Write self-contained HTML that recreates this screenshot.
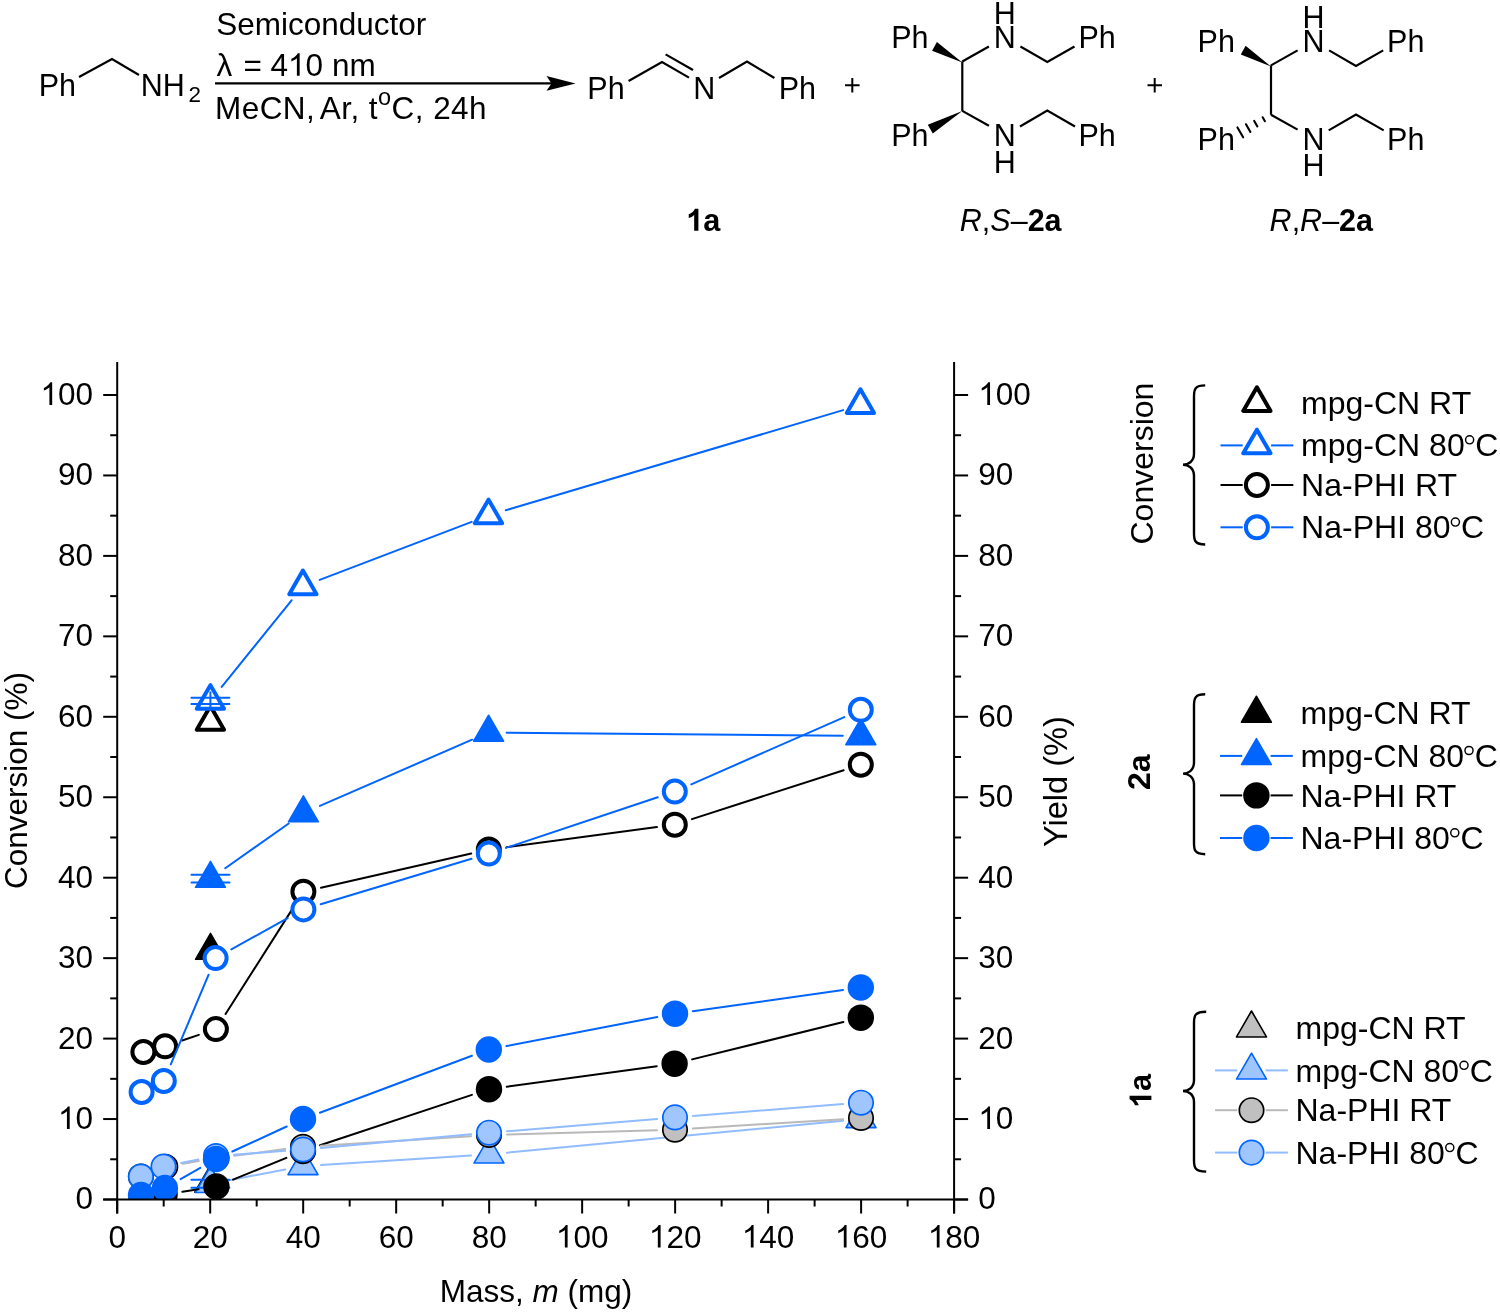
<!DOCTYPE html><html><head><meta charset="utf-8"><title>Chart</title><style>html,body{margin:0;padding:0;background:#fff;}svg{display:block;will-change:transform;}text{font-family:"Liberation Sans",sans-serif;}</style></head><body><svg width="1500" height="1312" viewBox="0 0 1500 1312"><text x="38.7" y="95.6" font-size="30.5" font-family="Liberation Sans, sans-serif" >Ph</text><polyline points="79,77 112,59 139,75" stroke="#000" stroke-width="2.2" fill="none" stroke-linecap="butt"/><text x="140.7" y="95.6" font-size="30.5" font-family="Liberation Sans, sans-serif" >NH</text><text x="188.6" y="102.4" font-size="22.5" font-family="Liberation Sans, sans-serif" >2</text><text x="216.2" y="34.8" font-size="31.5" font-family="Liberation Sans, sans-serif">Semiconductor</text><text y="75.8" font-size="31.5" font-family="Liberation Sans, sans-serif"><tspan x="216.6">λ</tspan><tspan x="243.6">=</tspan><tspan x="332.1">nm</tspan></text><text x="270.40" y="75.80" font-size="31.5" font-family="Liberation Sans, sans-serif" >4 0</text><path d="M763,0H583V1147C540,1106 483,1065 413,1024C343,983 280,952 223,931V1105C323,1152 411,1210 486,1277C561,1344 614,1410 645,1466H763Z" transform="translate(287.92,75.80) scale(0.015381,-0.015381)"/><text x="215" y="119.4" font-size="31.5" letter-spacing="0.45" font-family="Liberation Sans, sans-serif">MeCN,<tspan dx="-3"> </tspan>Ar, t<tspan dy="-14.5" font-size="23.5">o</tspan><tspan dy="14.5">C, 24h</tspan></text><line x1="215" y1="83.4" x2="556" y2="83.4" stroke="#000" stroke-width="2.2"/><path d="M575.5,83.4 L546.5,76 L551.5,83.4 L546.5,90.8 Z" fill="#000"/><text x="587.3" y="99" font-size="30.5" font-family="Liberation Sans, sans-serif" >Ph</text><polyline points="628.6,81 662,62 689,77.6" stroke="#000" stroke-width="2.2" fill="none" stroke-linecap="butt"/><line x1="665.6" y1="54.4" x2="693" y2="70" stroke="#000" stroke-width="2.2" fill="none" stroke-linecap="butt"/><text x="693.3" y="99" font-size="30.5" font-family="Liberation Sans, sans-serif" >N</text><polyline points="719,78 747,61.6 774.4,78" stroke="#000" stroke-width="2.2" fill="none" stroke-linecap="butt"/><text x="778.7" y="99" font-size="30.5" font-family="Liberation Sans, sans-serif" >Ph</text><path d="M845,85.2 H859.6 M852.3,78 V92.4" stroke="#000" stroke-width="2"/><path d="M1147.5,85.3 H1162 M1154.7,78 V92.6" stroke="#000" stroke-width="2"/><text x="891.2" y="48.2" font-size="30.5" font-family="Liberation Sans, sans-serif" >Ph</text><text x="993.8" y="24.3" font-size="30.5" font-family="Liberation Sans, sans-serif" >H</text><text x="993.8" y="48.2" font-size="30.5" font-family="Liberation Sans, sans-serif" >N</text><text x="1078.4" y="48.2" font-size="30.5" font-family="Liberation Sans, sans-serif" >Ph</text><text x="891.2" y="146" font-size="30.5" font-family="Liberation Sans, sans-serif" >Ph</text><text x="993.8" y="146" font-size="30.5" font-family="Liberation Sans, sans-serif" >N</text><text x="993.8" y="172.5" font-size="30.5" font-family="Liberation Sans, sans-serif" >H</text><text x="1078.4" y="146" font-size="30.5" font-family="Liberation Sans, sans-serif" >Ph</text><line x1="962.3" y1="61.5" x2="962.3" y2="110.9" stroke="#000" stroke-width="2.2" fill="none" stroke-linecap="butt"/><line x1="962.3" y1="61.5" x2="988.9" y2="46.5" stroke="#000" stroke-width="2.2" fill="none" stroke-linecap="butt"/><polyline points="1020.4,46.5 1047.3,62 1074.5,46.5" stroke="#000" stroke-width="2.2" fill="none" stroke-linecap="butt"/><line x1="962.3" y1="110.9" x2="988.9" y2="125.7" stroke="#000" stroke-width="2.2" fill="none" stroke-linecap="butt"/><polyline points="1020,126.5 1047.3,110.6 1075,126.5" stroke="#000" stroke-width="2.2" fill="none" stroke-linecap="butt"/><polygon points="962.3,62.5 936.90,41.91 932.10,50.69" fill="#000"/><polygon points="962.3,110.9 927.82,124.86 932.78,133.54" fill="#000"/><text x="1197.6000000000001" y="52.1" font-size="30.5" font-family="Liberation Sans, sans-serif" >Ph</text><text x="1302.5" y="28.2" font-size="30.5" font-family="Liberation Sans, sans-serif" >H</text><text x="1302.5" y="52.1" font-size="30.5" font-family="Liberation Sans, sans-serif" >N</text><text x="1387.1000000000001" y="52.1" font-size="30.5" font-family="Liberation Sans, sans-serif" >Ph</text><text x="1197.6000000000001" y="149.9" font-size="30.5" font-family="Liberation Sans, sans-serif" >Ph</text><text x="1302.5" y="149.9" font-size="30.5" font-family="Liberation Sans, sans-serif" >N</text><text x="1302.5" y="176.4" font-size="30.5" font-family="Liberation Sans, sans-serif" >H</text><text x="1387.1000000000001" y="149.9" font-size="30.5" font-family="Liberation Sans, sans-serif" >Ph</text><line x1="1271.0" y1="65.4" x2="1271.0" y2="114.80000000000001" stroke="#000" stroke-width="2.2" fill="none" stroke-linecap="butt"/><line x1="1271.0" y1="65.4" x2="1297.6" y2="50.4" stroke="#000" stroke-width="2.2" fill="none" stroke-linecap="butt"/><polyline points="1329.1,50.4 1356.0,65.9 1383.2,50.4" stroke="#000" stroke-width="2.2" fill="none" stroke-linecap="butt"/><line x1="1271.0" y1="114.80000000000001" x2="1297.6" y2="129.6" stroke="#000" stroke-width="2.2" fill="none" stroke-linecap="butt"/><polyline points="1328.7,130.4 1356.0,114.5 1383.7,130.4" stroke="#000" stroke-width="2.2" fill="none" stroke-linecap="butt"/><polygon points="1271.0,66.4 1245.60,45.81 1240.80,54.59" fill="#000"/><line x1="1262.68" y1="117.25" x2="1264.92" y2="121.15" stroke="#000" stroke-width="2.1" stroke-linecap="round"/><line x1="1254.23" y1="120.97" x2="1257.37" y2="126.43" stroke="#000" stroke-width="2.1" stroke-linecap="round"/><line x1="1245.99" y1="124.24" x2="1250.41" y2="131.96" stroke="#000" stroke-width="2.1" stroke-linecap="round"/><line x1="1237.47" y1="127.45" x2="1243.13" y2="137.35" stroke="#000" stroke-width="2.1" stroke-linecap="round"/><text x="686.13" y="230.80" font-size="30.7" font-weight="bold" font-family="Liberation Sans, sans-serif" > a</text><path d="M818,0H537V1059C434,963 313,892 174,846V1101C247,1125 327,1170 413,1236C499,1303 558,1380 590,1466H818Z" transform="translate(686.13,230.80) scale(0.014990,-0.014990)"/><text x="959.8" y="230.8" font-size="30.5" font-family="Liberation Sans, sans-serif"><tspan font-style="italic">R</tspan>,<tspan font-style="italic">S</tspan>–<tspan font-weight="bold">2a</tspan></text><text x="1269.6" y="230.8" font-size="30.5" font-family="Liberation Sans, sans-serif"><tspan font-style="italic">R</tspan>,<tspan font-style="italic">R</tspan>–<tspan font-weight="bold">2a</tspan></text><clipPath id="pc"><rect x="117.2" y="362" width="836.9" height="837.5"/></clipPath><g clip-path="url(#pc)"><polygon points="209.80,1166.28 194.80,1192.26 224.80,1192.26" fill="#c0c0c0" stroke="#000" stroke-width="1.6" stroke-linejoin="round"/><line x1="228.08" y1="1180.40" x2="285.32" y2="1169.40" stroke="#91bcff" stroke-width="2" stroke-linecap="round"/><line x1="320.97" y1="1164.88" x2="471.03" y2="1155.52" stroke="#91bcff" stroke-width="2" stroke-linecap="round"/><line x1="506.92" y1="1152.69" x2="843.08" y2="1120.71" stroke="#91bcff" stroke-width="2" stroke-linecap="round"/><polygon points="210.40,1166.48 195.40,1192.46 225.40,1192.46" fill="#a0c6ff" stroke="#0064ff" stroke-width="1.6" stroke-linejoin="round"/><line x1="191.40" y1="1179.80" x2="229.40" y2="1179.80" stroke="#0064ff" stroke-width="2" stroke-linecap="round"/><line x1="191.40" y1="1187.80" x2="229.40" y2="1187.80" stroke="#0064ff" stroke-width="2" stroke-linecap="round"/><line x1="210.40" y1="1179.80" x2="210.40" y2="1187.80" stroke="#0064ff" stroke-width="2"/><polygon points="303.00,1148.68 288.00,1174.66 318.00,1174.66" fill="#a0c6ff" stroke="#0064ff" stroke-width="1.6" stroke-linejoin="round"/><polygon points="489.00,1137.08 474.00,1163.06 504.00,1163.06" fill="#a0c6ff" stroke="#0064ff" stroke-width="1.6" stroke-linejoin="round"/><polygon points="861.00,1101.68 846.00,1127.66 876.00,1127.66" fill="#a0c6ff" stroke="#0064ff" stroke-width="1.6" stroke-linejoin="round"/><line x1="182.38" y1="1191.82" x2="198.62" y2="1189.28" stroke="#000" stroke-width="2" stroke-linecap="round"/><line x1="233.05" y1="1179.67" x2="286.35" y2="1157.83" stroke="#000" stroke-width="2" stroke-linecap="round"/><line x1="320.08" y1="1145.32" x2="471.92" y2="1094.88" stroke="#000" stroke-width="2" stroke-linecap="round"/><line x1="506.83" y1="1086.75" x2="656.77" y2="1066.15" stroke="#000" stroke-width="2" stroke-linecap="round"/><line x1="692.07" y1="1059.38" x2="843.33" y2="1022.02" stroke="#000" stroke-width="2" stroke-linecap="round"/><circle cx="141.50" cy="1197.50" r="13.2" fill="#000"/><circle cx="164.60" cy="1194.60" r="13.2" fill="#000"/><circle cx="216.40" cy="1186.50" r="13.2" fill="#000"/><circle cx="303.00" cy="1151.00" r="13.2" fill="#000"/><circle cx="489.00" cy="1089.20" r="13.2" fill="#000"/><circle cx="674.60" cy="1063.70" r="13.2" fill="#000"/><circle cx="860.80" cy="1017.70" r="13.2" fill="#000"/><line x1="183.04" y1="1163.76" x2="198.86" y2="1161.04" stroke="#b9b9b9" stroke-width="2" stroke-linecap="round"/><line x1="234.45" y1="1155.69" x2="285.15" y2="1149.11" stroke="#b9b9b9" stroke-width="2" stroke-linecap="round"/><line x1="320.96" y1="1145.66" x2="471.04" y2="1136.14" stroke="#b9b9b9" stroke-width="2" stroke-linecap="round"/><line x1="506.99" y1="1134.49" x2="657.01" y2="1130.21" stroke="#b9b9b9" stroke-width="2" stroke-linecap="round"/><line x1="692.96" y1="1128.57" x2="843.04" y2="1119.13" stroke="#b9b9b9" stroke-width="2" stroke-linecap="round"/><circle cx="140.90" cy="1176.60" r="12.2" fill="#c0c0c0" stroke="#000" stroke-width="1.7"/><circle cx="165.30" cy="1166.80" r="12.2" fill="#c0c0c0" stroke="#000" stroke-width="1.7"/><circle cx="216.60" cy="1158.00" r="12.2" fill="#c0c0c0" stroke="#000" stroke-width="1.7"/><circle cx="303.00" cy="1146.80" r="12.2" fill="#c0c0c0" stroke="#000" stroke-width="1.7"/><circle cx="489.00" cy="1135.00" r="12.2" fill="#c0c0c0" stroke="#000" stroke-width="1.7"/><circle cx="675.00" cy="1129.70" r="12.2" fill="#c0c0c0" stroke="#000" stroke-width="1.7"/><circle cx="861.00" cy="1118.00" r="12.2" fill="#c0c0c0" stroke="#000" stroke-width="1.7"/><line x1="181.14" y1="1163.04" x2="198.36" y2="1159.56" stroke="#91bcff" stroke-width="2" stroke-linecap="round"/><line x1="233.95" y1="1154.66" x2="285.05" y2="1150.84" stroke="#91bcff" stroke-width="2" stroke-linecap="round"/><line x1="320.93" y1="1147.88" x2="471.07" y2="1134.32" stroke="#91bcff" stroke-width="2" stroke-linecap="round"/><line x1="506.94" y1="1131.22" x2="657.06" y2="1118.88" stroke="#91bcff" stroke-width="2" stroke-linecap="round"/><line x1="692.94" y1="1115.98" x2="843.06" y2="1104.12" stroke="#91bcff" stroke-width="2" stroke-linecap="round"/><circle cx="140.90" cy="1176.50" r="12.2" fill="#a0c6ff" stroke="#0064ff" stroke-width="1.7"/><circle cx="163.50" cy="1166.60" r="12.2" fill="#a0c6ff" stroke="#0064ff" stroke-width="1.7"/><circle cx="216.00" cy="1156.00" r="12.2" fill="#a0c6ff" stroke="#0064ff" stroke-width="1.7"/><circle cx="303.00" cy="1149.50" r="12.2" fill="#a0c6ff" stroke="#0064ff" stroke-width="1.7"/><circle cx="489.00" cy="1132.70" r="12.2" fill="#a0c6ff" stroke="#0064ff" stroke-width="1.7"/><circle cx="675.00" cy="1117.40" r="12.2" fill="#a0c6ff" stroke="#0064ff" stroke-width="1.7"/><circle cx="861.00" cy="1102.70" r="12.2" fill="#a0c6ff" stroke="#0064ff" stroke-width="1.7"/><line x1="180.55" y1="1179.12" x2="200.35" y2="1167.88" stroke="#0064ff" stroke-width="2" stroke-linecap="round"/><line x1="232.35" y1="1151.48" x2="286.65" y2="1126.52" stroke="#0064ff" stroke-width="2" stroke-linecap="round"/><line x1="319.86" y1="1112.69" x2="471.94" y2="1055.81" stroke="#0064ff" stroke-width="2" stroke-linecap="round"/><line x1="506.48" y1="1046.10" x2="657.32" y2="1017.10" stroke="#0064ff" stroke-width="2" stroke-linecap="round"/><line x1="692.82" y1="1011.19" x2="842.98" y2="990.01" stroke="#0064ff" stroke-width="2" stroke-linecap="round"/><circle cx="141.00" cy="1195.00" r="13.2" fill="#0064ff"/><circle cx="164.90" cy="1188.00" r="13.2" fill="#0064ff"/><circle cx="216.00" cy="1159.00" r="13.2" fill="#0064ff"/><circle cx="303.00" cy="1119.00" r="13.2" fill="#0064ff"/><circle cx="488.80" cy="1049.50" r="13.2" fill="#0064ff"/><circle cx="675.00" cy="1013.70" r="13.2" fill="#0064ff"/><circle cx="860.80" cy="987.50" r="13.2" fill="#0064ff"/><polygon points="210.50,933.38 195.50,959.36 225.50,959.36" fill="#000" stroke="#000" stroke-width="1.5" stroke-linejoin="round"/><line x1="225.21" y1="868.23" x2="288.69" y2="823.47" stroke="#0064ff" stroke-width="2" stroke-linecap="round"/><line x1="319.90" y1="805.92" x2="472.10" y2="739.68" stroke="#0064ff" stroke-width="2" stroke-linecap="round"/><line x1="506.60" y1="732.67" x2="842.80" y2="735.83" stroke="#0064ff" stroke-width="2" stroke-linecap="round"/><polygon points="210.50,861.28 195.50,887.26 225.50,887.26" fill="#0064ff" stroke="#0064ff" stroke-width="1.5" stroke-linejoin="round"/><line x1="191.50" y1="874.75" x2="229.50" y2="874.75" stroke="#0064ff" stroke-width="2" stroke-linecap="round"/><line x1="191.50" y1="882.45" x2="229.50" y2="882.45" stroke="#0064ff" stroke-width="2" stroke-linecap="round"/><line x1="210.50" y1="874.75" x2="210.50" y2="882.45" stroke="#0064ff" stroke-width="2"/><polygon points="303.40,795.78 288.40,821.76 318.40,821.76" fill="#0064ff" stroke="#0064ff" stroke-width="1.5" stroke-linejoin="round"/><polygon points="488.60,715.18 473.60,741.16 503.60,741.16" fill="#0064ff" stroke="#0064ff" stroke-width="1.5" stroke-linejoin="round"/><polygon points="860.80,718.68 845.80,744.66 875.80,744.66" fill="#0064ff" stroke="#0064ff" stroke-width="1.5" stroke-linejoin="round"/><polygon points="210.40,706.04 196.75,729.68 224.05,729.68" fill="#fff" stroke="#000" stroke-width="4" stroke-linejoin="round"/><line x1="221.71" y1="686.89" x2="291.59" y2="600.31" stroke="#0064ff" stroke-width="2" stroke-linecap="round"/><line x1="319.71" y1="579.88" x2="471.69" y2="521.82" stroke="#0064ff" stroke-width="2" stroke-linecap="round"/><line x1="505.76" y1="510.28" x2="843.14" y2="410.12" stroke="#0064ff" stroke-width="2" stroke-linecap="round"/><polygon points="210.40,685.14 196.75,708.78 224.05,708.78" fill="#fff" stroke="#0064ff" stroke-width="4" stroke-linejoin="round"/><line x1="191.40" y1="697.70" x2="229.40" y2="697.70" stroke="#0064ff" stroke-width="2" stroke-linecap="round"/><line x1="191.40" y1="704.10" x2="229.40" y2="704.10" stroke="#0064ff" stroke-width="2" stroke-linecap="round"/><line x1="210.40" y1="691.40" x2="210.40" y2="706.90" stroke="#0064ff" stroke-width="2"/><polygon points="302.90,570.54 289.25,594.18 316.55,594.18" fill="#fff" stroke="#0064ff" stroke-width="4" stroke-linejoin="round"/><polygon points="488.50,499.64 474.85,523.28 502.15,523.28" fill="#fff" stroke="#0064ff" stroke-width="4" stroke-linejoin="round"/><polygon points="860.40,389.24 846.75,412.88 874.05,412.88" fill="#fff" stroke="#0064ff" stroke-width="4" stroke-linejoin="round"/><line x1="182.15" y1="1040.53" x2="198.85" y2="1034.87" stroke="#000" stroke-width="2" stroke-linecap="round"/><line x1="225.57" y1="1013.92" x2="293.73" y2="906.88" stroke="#000" stroke-width="2" stroke-linecap="round"/><line x1="320.95" y1="887.71" x2="471.25" y2="853.49" stroke="#000" stroke-width="2" stroke-linecap="round"/><line x1="506.64" y1="847.12" x2="656.96" y2="827.08" stroke="#000" stroke-width="2" stroke-linecap="round"/><line x1="691.93" y1="819.17" x2="843.67" y2="770.23" stroke="#000" stroke-width="2" stroke-linecap="round"/><circle cx="143.40" cy="1052.00" r="11" fill="#fff" stroke="#000" stroke-width="4"/><circle cx="165.10" cy="1046.30" r="11" fill="#fff" stroke="#000" stroke-width="4"/><circle cx="215.90" cy="1029.10" r="11" fill="#fff" stroke="#000" stroke-width="4"/><circle cx="303.40" cy="891.70" r="11" fill="#fff" stroke="#000" stroke-width="4"/><circle cx="488.80" cy="849.50" r="11" fill="#fff" stroke="#000" stroke-width="4"/><circle cx="674.80" cy="824.70" r="11" fill="#fff" stroke="#000" stroke-width="4"/><circle cx="860.80" cy="764.70" r="11" fill="#fff" stroke="#000" stroke-width="4"/><line x1="170.79" y1="1064.41" x2="208.61" y2="974.69" stroke="#0064ff" stroke-width="2" stroke-linecap="round"/><line x1="231.34" y1="949.37" x2="287.66" y2="918.13" stroke="#0064ff" stroke-width="2" stroke-linecap="round"/><line x1="320.64" y1="904.21" x2="471.56" y2="858.79" stroke="#0064ff" stroke-width="2" stroke-linecap="round"/><line x1="505.88" y1="847.91" x2="657.72" y2="797.29" stroke="#0064ff" stroke-width="2" stroke-linecap="round"/><line x1="691.28" y1="784.35" x2="844.32" y2="717.05" stroke="#0064ff" stroke-width="2" stroke-linecap="round"/><circle cx="141.60" cy="1092.00" r="11" fill="#fff" stroke="#0064ff" stroke-width="4"/><circle cx="163.80" cy="1081.00" r="11" fill="#fff" stroke="#0064ff" stroke-width="4"/><circle cx="215.60" cy="958.10" r="11" fill="#fff" stroke="#0064ff" stroke-width="4"/><circle cx="303.40" cy="909.40" r="11" fill="#fff" stroke="#0064ff" stroke-width="4"/><circle cx="488.80" cy="853.60" r="11" fill="#fff" stroke="#0064ff" stroke-width="4"/><circle cx="674.80" cy="791.60" r="11" fill="#fff" stroke="#0064ff" stroke-width="4"/><circle cx="860.80" cy="709.80" r="11" fill="#fff" stroke="#0064ff" stroke-width="4"/></g><line x1="117.2" y1="362" x2="117.2" y2="1213.5" stroke="#000" stroke-width="2"/><line x1="954.1" y1="362" x2="954.1" y2="1213.5" stroke="#000" stroke-width="2"/><line x1="103.2" y1="1199.5" x2="968.1" y2="1199.5" stroke="#000" stroke-width="2"/><line x1="103.2" y1="1199.50" x2="117.2" y2="1199.50" stroke="#000" stroke-width="2"/><line x1="954.1" y1="1199.50" x2="968.1" y2="1199.50" stroke="#000" stroke-width="2"/><line x1="110.2" y1="1159.28" x2="117.2" y2="1159.28" stroke="#000" stroke-width="2"/><line x1="954.1" y1="1159.28" x2="961.1" y2="1159.28" stroke="#000" stroke-width="2"/><line x1="103.2" y1="1119.05" x2="117.2" y2="1119.05" stroke="#000" stroke-width="2"/><line x1="954.1" y1="1119.05" x2="968.1" y2="1119.05" stroke="#000" stroke-width="2"/><line x1="110.2" y1="1078.83" x2="117.2" y2="1078.83" stroke="#000" stroke-width="2"/><line x1="954.1" y1="1078.83" x2="961.1" y2="1078.83" stroke="#000" stroke-width="2"/><line x1="103.2" y1="1038.60" x2="117.2" y2="1038.60" stroke="#000" stroke-width="2"/><line x1="954.1" y1="1038.60" x2="968.1" y2="1038.60" stroke="#000" stroke-width="2"/><line x1="110.2" y1="998.38" x2="117.2" y2="998.38" stroke="#000" stroke-width="2"/><line x1="954.1" y1="998.38" x2="961.1" y2="998.38" stroke="#000" stroke-width="2"/><line x1="103.2" y1="958.15" x2="117.2" y2="958.15" stroke="#000" stroke-width="2"/><line x1="954.1" y1="958.15" x2="968.1" y2="958.15" stroke="#000" stroke-width="2"/><line x1="110.2" y1="917.92" x2="117.2" y2="917.92" stroke="#000" stroke-width="2"/><line x1="954.1" y1="917.92" x2="961.1" y2="917.92" stroke="#000" stroke-width="2"/><line x1="103.2" y1="877.70" x2="117.2" y2="877.70" stroke="#000" stroke-width="2"/><line x1="954.1" y1="877.70" x2="968.1" y2="877.70" stroke="#000" stroke-width="2"/><line x1="110.2" y1="837.48" x2="117.2" y2="837.48" stroke="#000" stroke-width="2"/><line x1="954.1" y1="837.48" x2="961.1" y2="837.48" stroke="#000" stroke-width="2"/><line x1="103.2" y1="797.25" x2="117.2" y2="797.25" stroke="#000" stroke-width="2"/><line x1="954.1" y1="797.25" x2="968.1" y2="797.25" stroke="#000" stroke-width="2"/><line x1="110.2" y1="757.02" x2="117.2" y2="757.02" stroke="#000" stroke-width="2"/><line x1="954.1" y1="757.02" x2="961.1" y2="757.02" stroke="#000" stroke-width="2"/><line x1="103.2" y1="716.80" x2="117.2" y2="716.80" stroke="#000" stroke-width="2"/><line x1="954.1" y1="716.80" x2="968.1" y2="716.80" stroke="#000" stroke-width="2"/><line x1="110.2" y1="676.58" x2="117.2" y2="676.58" stroke="#000" stroke-width="2"/><line x1="954.1" y1="676.58" x2="961.1" y2="676.58" stroke="#000" stroke-width="2"/><line x1="103.2" y1="636.35" x2="117.2" y2="636.35" stroke="#000" stroke-width="2"/><line x1="954.1" y1="636.35" x2="968.1" y2="636.35" stroke="#000" stroke-width="2"/><line x1="110.2" y1="596.12" x2="117.2" y2="596.12" stroke="#000" stroke-width="2"/><line x1="954.1" y1="596.12" x2="961.1" y2="596.12" stroke="#000" stroke-width="2"/><line x1="103.2" y1="555.90" x2="117.2" y2="555.90" stroke="#000" stroke-width="2"/><line x1="954.1" y1="555.90" x2="968.1" y2="555.90" stroke="#000" stroke-width="2"/><line x1="110.2" y1="515.67" x2="117.2" y2="515.67" stroke="#000" stroke-width="2"/><line x1="954.1" y1="515.67" x2="961.1" y2="515.67" stroke="#000" stroke-width="2"/><line x1="103.2" y1="475.45" x2="117.2" y2="475.45" stroke="#000" stroke-width="2"/><line x1="954.1" y1="475.45" x2="968.1" y2="475.45" stroke="#000" stroke-width="2"/><line x1="110.2" y1="435.23" x2="117.2" y2="435.23" stroke="#000" stroke-width="2"/><line x1="954.1" y1="435.23" x2="961.1" y2="435.23" stroke="#000" stroke-width="2"/><line x1="103.2" y1="395.00" x2="117.2" y2="395.00" stroke="#000" stroke-width="2"/><line x1="954.1" y1="395.00" x2="968.1" y2="395.00" stroke="#000" stroke-width="2"/><line x1="117.20" y1="1199.5" x2="117.20" y2="1213.5" stroke="#000" stroke-width="2"/><line x1="163.69" y1="1199.5" x2="163.69" y2="1206.5" stroke="#000" stroke-width="2"/><line x1="210.19" y1="1199.5" x2="210.19" y2="1213.5" stroke="#000" stroke-width="2"/><line x1="256.68" y1="1199.5" x2="256.68" y2="1206.5" stroke="#000" stroke-width="2"/><line x1="303.18" y1="1199.5" x2="303.18" y2="1213.5" stroke="#000" stroke-width="2"/><line x1="349.67" y1="1199.5" x2="349.67" y2="1206.5" stroke="#000" stroke-width="2"/><line x1="396.17" y1="1199.5" x2="396.17" y2="1213.5" stroke="#000" stroke-width="2"/><line x1="442.66" y1="1199.5" x2="442.66" y2="1206.5" stroke="#000" stroke-width="2"/><line x1="489.16" y1="1199.5" x2="489.16" y2="1213.5" stroke="#000" stroke-width="2"/><line x1="535.65" y1="1199.5" x2="535.65" y2="1206.5" stroke="#000" stroke-width="2"/><line x1="582.14" y1="1199.5" x2="582.14" y2="1213.5" stroke="#000" stroke-width="2"/><line x1="628.64" y1="1199.5" x2="628.64" y2="1206.5" stroke="#000" stroke-width="2"/><line x1="675.13" y1="1199.5" x2="675.13" y2="1213.5" stroke="#000" stroke-width="2"/><line x1="721.63" y1="1199.5" x2="721.63" y2="1206.5" stroke="#000" stroke-width="2"/><line x1="768.12" y1="1199.5" x2="768.12" y2="1213.5" stroke="#000" stroke-width="2"/><line x1="814.62" y1="1199.5" x2="814.62" y2="1206.5" stroke="#000" stroke-width="2"/><line x1="861.11" y1="1199.5" x2="861.11" y2="1213.5" stroke="#000" stroke-width="2"/><line x1="907.61" y1="1199.5" x2="907.61" y2="1206.5" stroke="#000" stroke-width="2"/><line x1="954.10" y1="1199.5" x2="954.10" y2="1213.5" stroke="#000" stroke-width="2"/><text x="75.48" y="1209.40" font-size="31.5" font-family="Liberation Sans, sans-serif" >0</text><text x="978.30" y="1209.40" font-size="31.5" font-family="Liberation Sans, sans-serif" >0</text><text x="57.96" y="1128.95" font-size="31.5" font-family="Liberation Sans, sans-serif" > 0</text><path d="M763,0H583V1147C540,1106 483,1065 413,1024C343,983 280,952 223,931V1105C323,1152 411,1210 486,1277C561,1344 614,1410 645,1466H763Z" transform="translate(57.96,1128.95) scale(0.015381,-0.015381)"/><text x="978.30" y="1128.95" font-size="31.5" font-family="Liberation Sans, sans-serif" > 0</text><path d="M763,0H583V1147C540,1106 483,1065 413,1024C343,983 280,952 223,931V1105C323,1152 411,1210 486,1277C561,1344 614,1410 645,1466H763Z" transform="translate(978.30,1128.95) scale(0.015381,-0.015381)"/><text x="57.96" y="1048.50" font-size="31.5" font-family="Liberation Sans, sans-serif" >20</text><text x="978.30" y="1048.50" font-size="31.5" font-family="Liberation Sans, sans-serif" >20</text><text x="57.96" y="968.05" font-size="31.5" font-family="Liberation Sans, sans-serif" >30</text><text x="978.30" y="968.05" font-size="31.5" font-family="Liberation Sans, sans-serif" >30</text><text x="57.96" y="887.60" font-size="31.5" font-family="Liberation Sans, sans-serif" >40</text><text x="978.30" y="887.60" font-size="31.5" font-family="Liberation Sans, sans-serif" >40</text><text x="57.96" y="807.15" font-size="31.5" font-family="Liberation Sans, sans-serif" >50</text><text x="978.30" y="807.15" font-size="31.5" font-family="Liberation Sans, sans-serif" >50</text><text x="57.96" y="726.70" font-size="31.5" font-family="Liberation Sans, sans-serif" >60</text><text x="978.30" y="726.70" font-size="31.5" font-family="Liberation Sans, sans-serif" >60</text><text x="57.96" y="646.25" font-size="31.5" font-family="Liberation Sans, sans-serif" >70</text><text x="978.30" y="646.25" font-size="31.5" font-family="Liberation Sans, sans-serif" >70</text><text x="57.96" y="565.80" font-size="31.5" font-family="Liberation Sans, sans-serif" >80</text><text x="978.30" y="565.80" font-size="31.5" font-family="Liberation Sans, sans-serif" >80</text><text x="57.96" y="485.35" font-size="31.5" font-family="Liberation Sans, sans-serif" >90</text><text x="978.30" y="485.35" font-size="31.5" font-family="Liberation Sans, sans-serif" >90</text><text x="40.44" y="404.90" font-size="31.5" font-family="Liberation Sans, sans-serif" > 00</text><path d="M763,0H583V1147C540,1106 483,1065 413,1024C343,983 280,952 223,931V1105C323,1152 411,1210 486,1277C561,1344 614,1410 645,1466H763Z" transform="translate(40.44,404.90) scale(0.015381,-0.015381)"/><text x="978.30" y="404.90" font-size="31.5" font-family="Liberation Sans, sans-serif" > 00</text><path d="M763,0H583V1147C540,1106 483,1065 413,1024C343,983 280,952 223,931V1105C323,1152 411,1210 486,1277C561,1344 614,1410 645,1466H763Z" transform="translate(978.30,404.90) scale(0.015381,-0.015381)"/><text x="108.44" y="1247.60" font-size="31.5" font-family="Liberation Sans, sans-serif" >0</text><text x="192.67" y="1247.60" font-size="31.5" font-family="Liberation Sans, sans-serif" >20</text><text x="285.66" y="1247.60" font-size="31.5" font-family="Liberation Sans, sans-serif" >40</text><text x="378.65" y="1247.60" font-size="31.5" font-family="Liberation Sans, sans-serif" >60</text><text x="471.64" y="1247.60" font-size="31.5" font-family="Liberation Sans, sans-serif" >80</text><text x="555.87" y="1247.60" font-size="31.5" font-family="Liberation Sans, sans-serif" > 00</text><path d="M763,0H583V1147C540,1106 483,1065 413,1024C343,983 280,952 223,931V1105C323,1152 411,1210 486,1277C561,1344 614,1410 645,1466H763Z" transform="translate(555.87,1247.60) scale(0.015381,-0.015381)"/><text x="648.86" y="1247.60" font-size="31.5" font-family="Liberation Sans, sans-serif" > 20</text><path d="M763,0H583V1147C540,1106 483,1065 413,1024C343,983 280,952 223,931V1105C323,1152 411,1210 486,1277C561,1344 614,1410 645,1466H763Z" transform="translate(648.86,1247.60) scale(0.015381,-0.015381)"/><text x="741.84" y="1247.60" font-size="31.5" font-family="Liberation Sans, sans-serif" > 40</text><path d="M763,0H583V1147C540,1106 483,1065 413,1024C343,983 280,952 223,931V1105C323,1152 411,1210 486,1277C561,1344 614,1410 645,1466H763Z" transform="translate(741.84,1247.60) scale(0.015381,-0.015381)"/><text x="834.83" y="1247.60" font-size="31.5" font-family="Liberation Sans, sans-serif" > 60</text><path d="M763,0H583V1147C540,1106 483,1065 413,1024C343,983 280,952 223,931V1105C323,1152 411,1210 486,1277C561,1344 614,1410 645,1466H763Z" transform="translate(834.83,1247.60) scale(0.015381,-0.015381)"/><text x="927.82" y="1247.60" font-size="31.5" font-family="Liberation Sans, sans-serif" > 80</text><path d="M763,0H583V1147C540,1106 483,1065 413,1024C343,983 280,952 223,931V1105C323,1152 411,1210 486,1277C561,1344 614,1410 645,1466H763Z" transform="translate(927.82,1247.60) scale(0.015381,-0.015381)"/><text x="536" y="1302.4" text-anchor="middle" font-size="31.5" font-family="Liberation Sans, sans-serif">Mass, <tspan font-style="italic">m</tspan> (mg)</text><text transform="translate(26.7,780.5) rotate(-90)" text-anchor="middle" font-size="31.5" font-family="Liberation Sans, sans-serif">Conversion (%)</text><text transform="translate(1066.6,781.6) rotate(-90)" text-anchor="middle" font-size="32.6" font-family="Liberation Sans, sans-serif">Yield (%)</text><polygon points="1256.90,387.24 1243.25,410.88 1270.55,410.88" fill="#fff" stroke="#000" stroke-width="4" stroke-linejoin="round"/><text x="1301.1" y="413.6" font-size="32" font-family="Liberation Sans, sans-serif">mpg-CN RT</text><line x1="1220.5" y1="445.4" x2="1242.7" y2="445.4" stroke="#0064ff" stroke-width="2"/><line x1="1271.1000000000001" y1="445.4" x2="1293.3000000000002" y2="445.4" stroke="#0064ff" stroke-width="2"/><polygon points="1256.90,429.64 1243.25,453.28 1270.55,453.28" fill="#fff" stroke="#0064ff" stroke-width="4" stroke-linejoin="round"/><text x="1301.1" y="456.1" font-size="32" font-family="Liberation Sans, sans-serif">mpg-CN 80<tspan dx="10.6">C</tspan></text><circle cx="1469.61" cy="439.80" r="4.05" fill="none" stroke="#000" stroke-width="1.45"/><line x1="1220.5" y1="485.0" x2="1242.7" y2="485.0" stroke="#000" stroke-width="2"/><line x1="1271.1000000000001" y1="485.0" x2="1293.3000000000002" y2="485.0" stroke="#000" stroke-width="2"/><circle cx="1256.90" cy="485.00" r="11" fill="#fff" stroke="#000" stroke-width="4"/><text x="1301.1" y="496.3" font-size="32" font-family="Liberation Sans, sans-serif">Na-PHI RT</text><line x1="1220.5" y1="527.3" x2="1242.7" y2="527.3" stroke="#0064ff" stroke-width="2"/><line x1="1271.1000000000001" y1="527.3" x2="1293.3000000000002" y2="527.3" stroke="#0064ff" stroke-width="2"/><circle cx="1256.90" cy="527.30" r="11" fill="#fff" stroke="#0064ff" stroke-width="4"/><text x="1301.1" y="538.4" font-size="32" font-family="Liberation Sans, sans-serif">Na-PHI 80<tspan dx="10.6">C</tspan></text><circle cx="1455.39" cy="522.10" r="4.05" fill="none" stroke="#000" stroke-width="1.45"/><path d="M1205.2,385.4 C1195,385.4 1194,389.4 1194,396.4 L1194,453.8 C1194,461.8 1188,464.8 1183,464.8 C1188,464.8 1194,467.8 1194,475.8 L1194,533.5 C1194,540.5 1195,544.5 1205.2,544.5" fill="none" stroke="#000" stroke-width="2.4"/><text transform="translate(1152.6,463.6) rotate(-90)" text-anchor="middle" font-size="32" font-family="Liberation Sans, sans-serif">Conversion</text><polygon points="1256.40,696.18 1241.40,722.16 1271.40,722.16" fill="#000" stroke="#000" stroke-width="1.5" stroke-linejoin="round"/><text x="1300.5" y="724.3" font-size="32" font-family="Liberation Sans, sans-serif">mpg-CN RT</text><line x1="1220.0" y1="755.9" x2="1242.2" y2="755.9" stroke="#0064ff" stroke-width="2"/><line x1="1270.6000000000001" y1="755.9" x2="1292.8000000000002" y2="755.9" stroke="#0064ff" stroke-width="2"/><polygon points="1256.40,738.58 1241.40,764.56 1271.40,764.56" fill="#0064ff" stroke="#0064ff" stroke-width="1.5" stroke-linejoin="round"/><text x="1300.5" y="766.8" font-size="32" font-family="Liberation Sans, sans-serif">mpg-CN 80<tspan dx="10.6">C</tspan></text><circle cx="1469.01" cy="750.50" r="4.05" fill="none" stroke="#000" stroke-width="1.45"/><line x1="1220.0" y1="795.4" x2="1242.2" y2="795.4" stroke="#000" stroke-width="2"/><line x1="1270.6000000000001" y1="795.4" x2="1292.8000000000002" y2="795.4" stroke="#000" stroke-width="2"/><circle cx="1256.40" cy="795.40" r="13.2" fill="#000"/><text x="1300.5" y="806.9" font-size="32" font-family="Liberation Sans, sans-serif">Na-PHI RT</text><line x1="1220.0" y1="838.0" x2="1242.2" y2="838.0" stroke="#0064ff" stroke-width="2"/><line x1="1270.6000000000001" y1="838.0" x2="1292.8000000000002" y2="838.0" stroke="#0064ff" stroke-width="2"/><circle cx="1256.40" cy="838.00" r="13.2" fill="#0064ff"/><text x="1300.5" y="849.1" font-size="32" font-family="Liberation Sans, sans-serif">Na-PHI 80<tspan dx="10.6">C</tspan></text><circle cx="1454.79" cy="832.80" r="4.05" fill="none" stroke="#000" stroke-width="1.45"/><path d="M1205.2,694.3 C1195,694.3 1194,698.3 1194,705.3 L1194,762.6 C1194,770.6 1188,773.6 1183,773.6 C1188,773.6 1194,776.6 1194,784.6 L1194,843.2 C1194,850.2 1195,854.2 1205.2,854.2" fill="none" stroke="#000" stroke-width="2.4"/><text transform="translate(1150.2,772.3) rotate(-90)" text-anchor="middle" font-size="32" font-weight="bold" font-family="Liberation Sans, sans-serif">2a</text><polygon points="1251.50,1010.98 1236.50,1036.96 1266.50,1036.96" fill="#c0c0c0" stroke="#000" stroke-width="1.6" stroke-linejoin="round"/><text x="1295.5" y="1039.1" font-size="32" font-family="Liberation Sans, sans-serif">mpg-CN RT</text><line x1="1215.1" y1="1070.4" x2="1237.3" y2="1070.4" stroke="#91bcff" stroke-width="2"/><line x1="1265.7" y1="1070.4" x2="1287.9" y2="1070.4" stroke="#91bcff" stroke-width="2"/><polygon points="1251.50,1053.08 1236.50,1079.06 1266.50,1079.06" fill="#a0c6ff" stroke="#0064ff" stroke-width="1.6" stroke-linejoin="round"/><text x="1295.5" y="1081.6" font-size="32" font-family="Liberation Sans, sans-serif">mpg-CN 80<tspan dx="10.6">C</tspan></text><circle cx="1464.01" cy="1065.30" r="4.05" fill="none" stroke="#000" stroke-width="1.45"/><line x1="1215.1" y1="1110.2" x2="1237.3" y2="1110.2" stroke="#b9b9b9" stroke-width="2"/><line x1="1265.7" y1="1110.2" x2="1287.9" y2="1110.2" stroke="#b9b9b9" stroke-width="2"/><circle cx="1251.50" cy="1110.20" r="12.2" fill="#c0c0c0" stroke="#000" stroke-width="1.7"/><text x="1295.5" y="1121.4" font-size="32" font-family="Liberation Sans, sans-serif">Na-PHI RT</text><line x1="1215.1" y1="1152.6" x2="1237.3" y2="1152.6" stroke="#91bcff" stroke-width="2"/><line x1="1265.7" y1="1152.6" x2="1287.9" y2="1152.6" stroke="#91bcff" stroke-width="2"/><circle cx="1251.50" cy="1152.60" r="12.2" fill="#a0c6ff" stroke="#0064ff" stroke-width="1.7"/><text x="1295.5" y="1163.9" font-size="32" font-family="Liberation Sans, sans-serif">Na-PHI 80<tspan dx="10.6">C</tspan></text><circle cx="1449.79" cy="1147.60" r="4.05" fill="none" stroke="#000" stroke-width="1.45"/><path d="M1206.2,1011.7 C1195,1011.7 1194,1015.7 1194,1022.7 L1194,1080 C1194,1088 1188,1091 1183,1091 C1188,1091 1194,1094 1194,1102 L1194,1160.6 C1194,1167.6 1195,1171.6 1206.2,1171.6" fill="none" stroke="#000" stroke-width="2.4"/><g transform="translate(1151.4,1091) rotate(-90)"><text x="-16.96" y="0.00" font-size="30.5" font-weight="bold" font-family="Liberation Sans, sans-serif" > a</text><path d="M818,0H537V1059C434,963 313,892 174,846V1101C247,1125 327,1170 413,1236C499,1303 558,1380 590,1466H818Z" transform="translate(-16.96,0.00) scale(0.014893,-0.014893)"/></g></svg></body></html>
